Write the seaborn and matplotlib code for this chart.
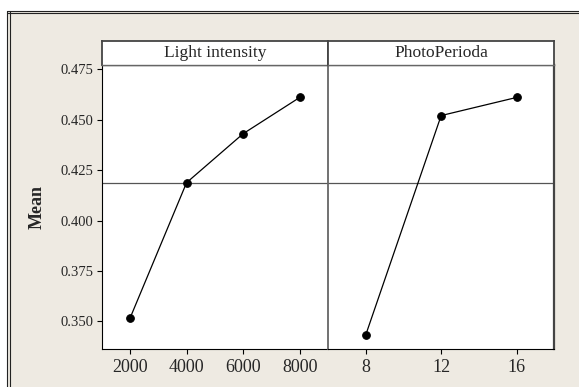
import matplotlib
matplotlib.use("Agg")
import matplotlib.pyplot as plt
from matplotlib.lines import Line2D
from matplotlib.patches import Rectangle
import seaborn as sns
import pandas as pd

# Main effects means
light_levels = [2000, 4000, 6000, 8000]
light_means = [0.3515, 0.4188, 0.4431, 0.4611]
photo_levels = [8, 12, 16]
photo_means = [0.3432, 0.4521, 0.4611]
grand_mean = 0.4188

panel_titles = ["Light intensity", "PhotoPerioda"]
y_ticks = [0.350, 0.375, 0.400, 0.425, 0.450, 0.475]
light_ticks = [2000, 4000, 6000, 8000]
photo_ticks = [8, 12, 16]

sns.set_theme(style="white")
plt.rcParams["font.family"] = ["Liberation Serif", "DejaVu Serif"]

W, H = 579, 387
fig = plt.figure(figsize=(W / 100, H / 100), dpi=100)
fig.patch.set_facecolor("white")

bg = "#EEEAE2"
# beige window area with a double border on top and left
fig.patches.append(Rectangle((7.5 / W, 0), 1, 1 - 11 / H, transform=fig.transFigure,
                             facecolor=bg, edgecolor="none", zorder=-10))
for y in (11.0, 13.0):
    fig.lines.append(Line2D([7.5 / W, 1], [1 - y / H, 1 - y / H], transform=fig.transFigure,
                            color="#222222", lw=0.8))
for x in (7.5, 10.0):
    fig.lines.append(Line2D([x / W, x / W], [0, 1 - 11 / H], transform=fig.transFigure,
                            color="#222222", lw=0.8))

x0, x1, x2 = 101.7, 328.0, 554.3
ytop, ybot, stop = 65.0, 348.7, 40.7

def fx(px):
    return px / W

def fy(py):
    return 1 - py / H

ax1 = fig.add_axes([fx(x0), fy(ybot), fx(x1 - x0), (ybot - ytop) / H])
ax2 = fig.add_axes([fx(x1), fy(ybot), fx(x2 - x1), (ybot - ytop) / H], sharey=ax1)

df1 = pd.DataFrame({"level": light_levels, "mean": light_means})
df2 = pd.DataFrame({"level": photo_levels, "mean": photo_means})

for ax, df in ((ax1, df1), (ax2, df2)):
    ax.set_facecolor("white")
    ax.axhline(grand_mean, color="#555555", lw=0.9, zorder=1)
    sns.lineplot(data=df, x="level", y="mean", ax=ax, color="black", lw=0.9,
                 marker="o", markersize=5.5, markeredgecolor="black", zorder=3)
    ax.set_xlabel("")
    ax.set_ylabel("")

ax1.set_xlim(1000, 9000)
ax2.set_xlim(6, 18)
ax1.set_ylim(0.3364, 0.4772)
ax1.set_xticks(light_ticks)
ax1.set_xticklabels([str(v) for v in light_ticks])
ax2.set_xticks(photo_ticks)
ax2.set_xticklabels([str(v) for v in photo_ticks])
ax1.set_yticks(y_ticks)
ax1.set_yticklabels([f"{v:.3f}" for v in y_ticks])

ax1.tick_params(axis="y", direction="out", length=3.5, width=0.8, color="black",
                labelsize=10.5, pad=2.5, left=True)
for ax in (ax1, ax2):
    ax.tick_params(axis="x", direction="out", length=3.5, width=0.8, color="black",
                   labelsize=13, pad=4, bottom=True)
ax2.tick_params(axis="y", left=False, labelleft=False)

for name, sp in ax1.spines.items():
    sp.set_visible(name in ("left", "bottom"))
    sp.set_color("black")
    sp.set_linewidth(0.8)
for name, sp in ax2.spines.items():
    sp.set_visible(True)
    sp.set_color("#444444")
    sp.set_linewidth(1.6)
ax2.spines["bottom"].set_color("black")
ax2.spines["bottom"].set_linewidth(0.8)
ax2.spines["left"].set_color("#666666")
ax2.spines["left"].set_linewidth(1.3)
ax1.spines["top"].set_visible(True)
ax1.spines["top"].set_color("#666666")
ax1.spines["top"].set_linewidth(1.0)

# panel strips
for (a, b), title in zip(((x0, x1), (x1, x2)), panel_titles):
    sax = fig.add_axes([fx(a), fy(ytop), fx(b - a), (ytop - stop) / H])
    sax.set_facecolor("white")
    sax.set_xticks([])
    sax.set_yticks([])
    for sp in sax.spines.values():
        sp.set_color("#444444")
        sp.set_linewidth(1.3)
    sax.spines["bottom"].set_color("#666666")
    sax.spines["bottom"].set_linewidth(1.0)
    sax.text(0.5, 0.5, title, ha="center", va="center", fontsize=12.5,
             transform=sax.transAxes)

fig.text(fx(37), fy((ytop + ybot) / 2), "Mean", rotation=90, ha="center", va="center",
         fontsize=13, fontweight="bold")

fig.savefig("out.png", dpi=100)
